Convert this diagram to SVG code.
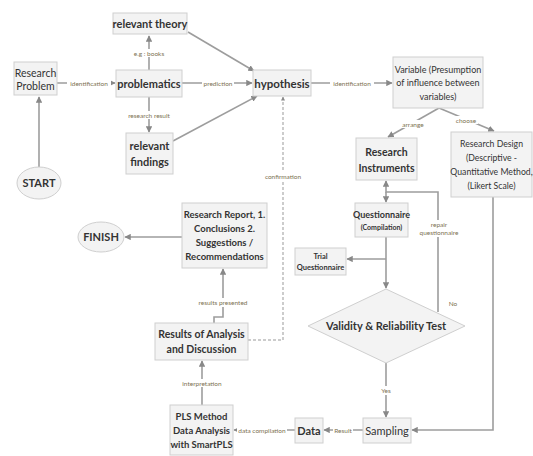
<svg xmlns="http://www.w3.org/2000/svg" width="533" height="456" viewBox="0 0 533 456">
<style>
.box{fill:#f3f3f3;stroke:#cfcfcf;stroke-width:1}
.t{font-family:Lato,"Liberation Sans",sans-serif;fill:#333;text-anchor:middle}
.b{font-weight:bold}
.lbl{font-family:Lato,"Liberation Sans",sans-serif;font-size:6.5px;fill:#7d7252;text-anchor:middle}
.ln{fill:none;stroke:#9d9d9d;stroke-width:1.6}
.dash{fill:none;stroke:#999;stroke-width:1;stroke-dasharray:3,2}
.bg{fill:#fff}
</style>
<defs>
<marker id="ah" viewBox="0 0 10 10" refX="9" refY="5" markerWidth="4" markerHeight="4" orient="auto-start-reverse">
<path d="M0,0 L10,5 L0,10 z" fill="#888"/>
</marker>
</defs>
<rect width="533" height="456" fill="#fff"/>
<g id="connectors">
<line class="ln" x1="39" y1="167" x2="39" y2="97" marker-end="url(#ah)"/>
<line class="ln" x1="57" y1="83" x2="115" y2="83" marker-end="url(#ah)"/>
<line class="ln" x1="182" y1="83" x2="252" y2="83" marker-end="url(#ah)"/>
<line class="ln" x1="149" y1="70" x2="149" y2="36" marker-end="url(#ah)"/>
<line class="ln" x1="149" y1="97" x2="149" y2="132" marker-end="url(#ah)"/>
<line class="ln" x1="188" y1="32" x2="254" y2="71" marker-end="url(#ah)"/>
<line class="ln" x1="173" y1="141" x2="257" y2="96" marker-end="url(#ah)"/>
<line class="ln" x1="311" y1="83" x2="392" y2="83" marker-end="url(#ah)"/>
<path class="ln" d="M439,108 L388,137" marker-end="url(#ah)"/>
<path class="ln" d="M439,108 L494,131" marker-end="url(#ah)"/>
<line class="ln" x1="386" y1="192" x2="386" y2="202" marker-end="url(#ah)"/>
<path class="ln" d="M438,312 V192 H386 V181" marker-end="url(#ah)"/>
<line class="ln" x1="386" y1="237" x2="386" y2="288" marker-end="url(#ah)"/>
<line class="ln" x1="386" y1="259" x2="347" y2="259" marker-end="url(#ah)"/>
<line class="ln" x1="386" y1="363" x2="386" y2="417" marker-end="url(#ah)"/>
<path class="ln" d="M493,197 V430 H412" marker-end="url(#ah)"/>
<line class="ln" x1="363" y1="430" x2="324" y2="430" marker-end="url(#ah)"/>
<line class="ln" x1="295" y1="430" x2="234" y2="430" marker-end="url(#ah)"/>
<line class="ln" x1="202" y1="405" x2="202" y2="361" marker-end="url(#ah)"/>
<path class="ln" d="M214,323 V317 H223 V269" marker-end="url(#ah)"/>
<line class="ln" x1="182" y1="237" x2="125" y2="237" marker-end="url(#ah)"/>
<path class="dash" d="M248,340 H283 V97" marker-end="url(#ah)"/>
<rect class="bg" x="67" y="79" width="44" height="8"/>
<text class="lbl" x="89" y="85.5">identification</text>
<rect class="bg" x="202" y="79" width="32" height="8"/>
<text class="lbl" x="218" y="85.5">prediction</text>
<rect class="bg" x="130" y="49" width="38" height="8"/>
<text class="lbl" x="149" y="55.5">e.g : books</text>
<rect class="bg" x="126" y="111" width="46" height="8"/>
<text class="lbl" x="149" y="117.5">research result</text>
<rect class="bg" x="330" y="79" width="44" height="8"/>
<text class="lbl" x="352" y="85.5">identification</text>
<rect class="bg" x="401" y="120" width="25" height="8"/>
<text class="lbl" x="413" y="126.5">arrange</text>
<rect class="bg" x="455" y="116" width="23" height="8"/>
<text class="lbl" x="466" y="122.5">choose</text>
<rect class="bg" x="264" y="172" width="38" height="8"/>
<text class="lbl" x="283" y="178.5">confirmation</text>
<rect class="bg" x="422" y="220" width="34" height="17"/>
<text class="lbl" x="439" y="226.5">repair</text>
<text class="lbl" x="439" y="235">questionnaire</text>
<text class="lbl" x="453" y="306">No</text>
<rect class="bg" x="378" y="386" width="16" height="9"/>
<text class="lbl" x="386" y="393">Yes</text>
<rect class="bg" x="333" y="426" width="20" height="8"/>
<text class="lbl" x="343" y="432.5">Result</text>
<rect class="bg" x="237" y="426" width="50" height="8"/>
<text class="lbl" x="262" y="432.5">data compilation</text>
<rect class="bg" x="182" y="379" width="40" height="8"/>
<text class="lbl" x="202" y="385.5">interpretation</text>
<rect class="bg" x="197" y="298" width="52" height="9"/>
<text class="lbl" x="223" y="305">results presented</text>
</g>
<g id="start">
<ellipse cx="39" cy="183" rx="22" ry="16" fill="#f3f3f3" stroke="#cfcfcf"/>
<text class="t b" x="39" y="187" font-size="11">START</text>
</g>
<g id="research-problem">
<rect class="box" x="14" y="62" width="43" height="33"/>
<text class="t" x="35.5" y="77" font-size="10.5">Research</text>
<text class="t" x="35.5" y="90" font-size="10.5">Problem</text>
</g>
<g id="relevant-theory">
<rect class="box" x="113" y="13" width="74" height="21"/>
<text class="t b" x="150" y="27.5" font-size="11">relevant theory</text>
</g>
<g id="problematics">
<rect class="box" x="116" y="70" width="66" height="27"/>
<text class="t b" x="149" y="87.5" font-size="11">problematics</text>
</g>
<g id="relevant-findings">
<rect class="box" x="126" y="133" width="47" height="41"/>
<text class="t b" x="149.5" y="150" font-size="11">relevant</text>
<text class="t b" x="149.5" y="166" font-size="11">findings</text>
</g>
<g id="hypothesis">
<rect class="box" x="253" y="70" width="58" height="26"/>
<text class="t b" x="282" y="87.5" font-size="11.5">hypothesis</text>
</g>
<g id="variable">
<rect class="box" x="393" y="57" width="90" height="51"/>
<text class="t" x="438" y="73" font-size="9" fill="#555">Variable (Presumption</text>
<text class="t" x="438" y="86" font-size="9" fill="#555">of influence between</text>
<text class="t" x="438" y="100" font-size="9" fill="#555">variables)</text>
</g>
<g id="research-instruments">
<rect class="box" x="356" y="138" width="61" height="42"/>
<text class="t b" x="386.5" y="156" font-size="10.5">Research</text>
<text class="t b" x="386.5" y="172" font-size="10.5">Instruments</text>
</g>
<g id="research-design">
<rect class="box" x="451" y="132" width="81" height="65"/>
<text class="t" x="491.5" y="147" font-size="8.7" fill="#555">Research Design</text>
<text class="t" x="491.5" y="161" font-size="8.7" fill="#555">(Descriptive -</text>
<text class="t" x="491.5" y="175" font-size="8.7" fill="#555">Quantitative Method,</text>
<text class="t" x="491.5" y="189" font-size="8.7" fill="#555">(Likert Scale)</text>
</g>
<g id="questionnaire">
<rect class="box" x="355" y="203" width="53" height="34"/>
<text class="t b" x="381.5" y="218" font-size="9">Questionnaire</text>
<text class="t b" x="381.5" y="230" font-size="7">(Compilation)</text>
</g>
<g id="trial-questionnaire">
<rect class="box" x="295" y="248" width="51" height="27"/>
<text class="t b" x="320.5" y="259" font-size="7.5">Trial</text>
<text class="t b" x="320.5" y="270" font-size="7.5">Questionnaire</text>
</g>
<g id="validity">
<polygon points="386,289 465,326 386,363 308,326" fill="#f3f3f3" stroke="#cfcfcf"/>
<text class="t b" x="386" y="330" font-size="11">Validity &amp; Reliability Test</text>
</g>
<g id="sampling">
<rect class="box" x="363" y="418" width="48" height="25"/>
<text class="t" x="387" y="434.5" font-size="11">Sampling</text>
</g>
<g id="data">
<rect class="box" x="295" y="418" width="28" height="25"/>
<text class="t b" x="309" y="434.5" font-size="11">Data</text>
</g>
<g id="pls">
<rect class="box" x="170" y="405" width="63" height="50"/>
<text class="t b" x="201.5" y="420" font-size="9.5">PLS Method</text>
<text class="t b" x="201.5" y="434" font-size="9.5">Data Analysis</text>
<text class="t b" x="201.5" y="448" font-size="9.5">with SmartPLS</text>
</g>
<g id="results">
<rect class="box" x="155" y="323" width="93" height="37"/>
<text class="t b" x="201.5" y="338" font-size="10.5">Results of Analysis</text>
<text class="t b" x="201.5" y="353" font-size="10.5">and Discussion</text>
</g>
<g id="research-report">
<rect class="box" x="182" y="203" width="85" height="65"/>
<text class="t b" x="224.5" y="218" font-size="9.5">Research Report, 1.</text>
<text class="t b" x="224.5" y="232" font-size="9.5">Conclusions 2.</text>
<text class="t b" x="224.5" y="246" font-size="9.5">Suggestions /</text>
<text class="t b" x="224.5" y="260" font-size="9.5">Recommendations</text>
</g>
<g id="finish">
<ellipse cx="101" cy="237" rx="23" ry="15" fill="#f3f3f3" stroke="#cfcfcf"/>
<text class="t b" x="101" y="241" font-size="11">FINISH</text>
</g>
</svg>
